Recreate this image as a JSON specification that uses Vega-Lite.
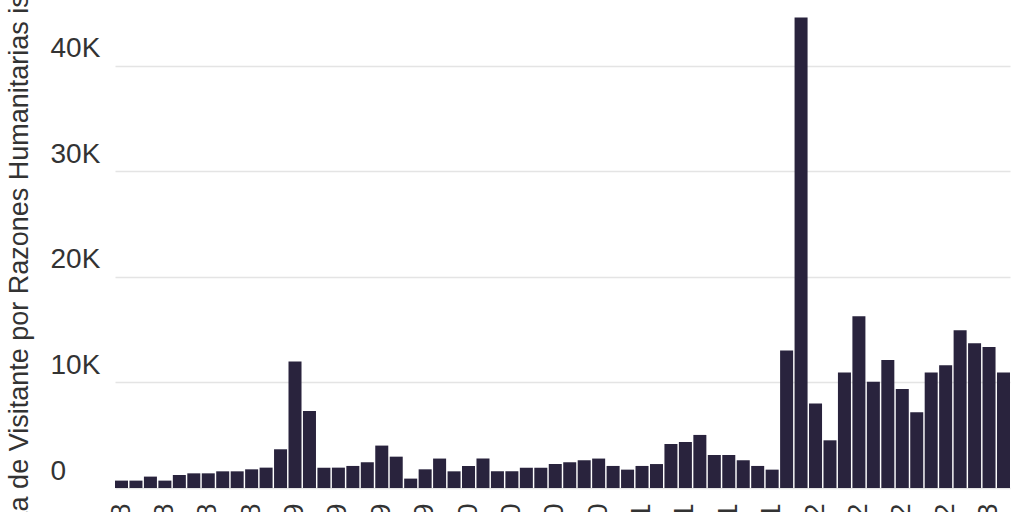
{
  "$schema": "https://vega.github.io/schema/vega-lite/v6.json",
  "autosize": "none",
  "width": 960,
  "height": 488,
  "padding": {"left": 50, "top": 0, "right": 14, "bottom": 24},
  "background": "#ffffff",
  "data": {
    "values": [
      {"mes": "2018-01-15", "tvrh": 700},
      {"mes": "2018-02-15", "tvrh": 700},
      {"mes": "2018-03-15", "tvrh": 1080},
      {"mes": "2018-04-15", "tvrh": 700},
      {"mes": "2018-05-15", "tvrh": 1230},
      {"mes": "2018-06-15", "tvrh": 1390},
      {"mes": "2018-07-15", "tvrh": 1390},
      {"mes": "2018-08-15", "tvrh": 1580},
      {"mes": "2018-09-15", "tvrh": 1580},
      {"mes": "2018-10-15", "tvrh": 1770},
      {"mes": "2018-11-15", "tvrh": 1930},
      {"mes": "2018-12-15", "tvrh": 3670},
      {"mes": "2019-01-15", "tvrh": 11980},
      {"mes": "2019-02-15", "tvrh": 7300},
      {"mes": "2019-03-15", "tvrh": 1930},
      {"mes": "2019-04-15", "tvrh": 1930},
      {"mes": "2019-05-15", "tvrh": 2090},
      {"mes": "2019-06-15", "tvrh": 2440},
      {"mes": "2019-07-15", "tvrh": 4020},
      {"mes": "2019-08-15", "tvrh": 2970},
      {"mes": "2019-09-15", "tvrh": 890},
      {"mes": "2019-10-15", "tvrh": 1770},
      {"mes": "2019-11-15", "tvrh": 2790},
      {"mes": "2019-12-15", "tvrh": 1580},
      {"mes": "2020-01-15", "tvrh": 2090},
      {"mes": "2020-02-15", "tvrh": 2790},
      {"mes": "2020-03-15", "tvrh": 1580},
      {"mes": "2020-04-15", "tvrh": 1580},
      {"mes": "2020-05-15", "tvrh": 1930},
      {"mes": "2020-06-15", "tvrh": 1930},
      {"mes": "2020-07-15", "tvrh": 2270},
      {"mes": "2020-08-15", "tvrh": 2440},
      {"mes": "2020-09-15", "tvrh": 2630},
      {"mes": "2020-10-15", "tvrh": 2790},
      {"mes": "2020-11-15", "tvrh": 2090},
      {"mes": "2020-12-15", "tvrh": 1740},
      {"mes": "2021-01-15", "tvrh": 2090},
      {"mes": "2021-02-15", "tvrh": 2270},
      {"mes": "2021-03-15", "tvrh": 4170},
      {"mes": "2021-04-15", "tvrh": 4360},
      {"mes": "2021-05-15", "tvrh": 5030},
      {"mes": "2021-06-15", "tvrh": 3130},
      {"mes": "2021-07-15", "tvrh": 3130},
      {"mes": "2021-08-15", "tvrh": 2630},
      {"mes": "2021-09-15", "tvrh": 2090},
      {"mes": "2021-10-15", "tvrh": 1740},
      {"mes": "2021-11-15", "tvrh": 13020},
      {"mes": "2021-12-15", "tvrh": 44590},
      {"mes": "2022-01-15", "tvrh": 8000},
      {"mes": "2022-02-15", "tvrh": 4520},
      {"mes": "2022-03-15", "tvrh": 10940},
      {"mes": "2022-04-15", "tvrh": 16270},
      {"mes": "2022-05-15", "tvrh": 10080},
      {"mes": "2022-06-15", "tvrh": 12130},
      {"mes": "2022-07-15", "tvrh": 9380},
      {"mes": "2022-08-15", "tvrh": 7180},
      {"mes": "2022-09-15", "tvrh": 10940},
      {"mes": "2022-10-15", "tvrh": 11630},
      {"mes": "2022-11-15", "tvrh": 14950},
      {"mes": "2022-12-15", "tvrh": 13720},
      {"mes": "2023-01-15", "tvrh": 13370},
      {"mes": "2023-02-15", "tvrh": 10940}
    ]
  },
  "mark": {"type": "bar", "color": "#29233d"},
  "encoding": {
    "x": {
      "field": "mes",
      "timeUnit": "yearmonth",
      "type": "ordinal",
      "scale": {"paddingInner": 0.1, "paddingOuter": 0, "range": [65, 960]},
      "axis": {
        "title": null,
        "domain": false,
        "ticks": false,
        "tickSize": 0,
        "labelPadding": 15,
        "labelAngle": -90,
        "labelOverlap": false,
        "labelFontSize": 28,
        "labelColor": "#333333",
        "labelExpr": "month(datum.value) % 3 == 0 ? timeFormat(datum.value, '%b %Y') : ''"
      }
    },
    "y": {
      "field": "tvrh",
      "type": "quantitative",
      "scale": {"domain": [0, 46250], "nice": false},
      "axis": {
        "title": "Tarjeta de Visitante por Razones Humanitarias issued",
        "titleFontSize": 27,
        "titleFontWeight": "normal",
        "titleColor": "#333333",
        "titleAngle": 270,
        "titleAlign": "center",
        "titleBaseline": "alphabetic",
        "titleX": -23,
        "titleY": 256,
        "values": [0, 10000, 20000, 30000, 40000],
        "domain": false,
        "ticks": false,
        "tickSize": 0,
        "labelPadding": 0,
        "labelAlign": "left",
        "labelBaseline": "alphabetic",
        "labelOffset": -9,
        "labelFontSize": 28,
        "labelColor": "#333333",
        "labelExpr": "datum.value == 0 ? '0' : (datum.value / 1000) + 'K'",
        "gridColor": "#e4e4e4",
        "gridWidth": 1.5
      }
    }
  },
  "config": {
    "font": "Liberation Sans",
    "view": {"stroke": null}
  }
}
